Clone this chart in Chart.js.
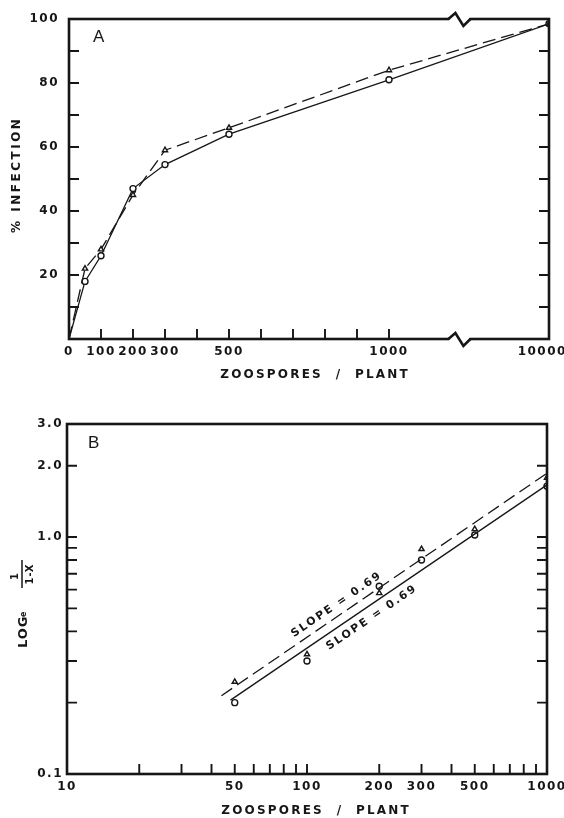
<!DOCTYPE html>
<html>
<head>
<meta charset="utf-8">
<script src="https://cdn.jsdelivr.net/npm/chart.js@4.4.0/dist/chart.umd.min.js"></script>
<style>
  html, body { margin: 0; padding: 0; background: #fff; }
  canvas { position: absolute; left: 0; }
  #chartA { top: 0; }
  #chartB { top: 400px; }
</style>
</head>
<body>
<canvas id="chartA" width="564" height="400"></canvas>
<canvas id="chartB" width="564" height="418"></canvas>
<script>
// ---- panel A: % infection vs zoospores / plant
const dosesA = [0, 50, 100, 200, 300, 500, 1000, 10000];
const infectionCircles = [0, 18, 26, 47, 54.5, 64, 81, 98.5];
const infectionTriangles = [0, 22, 28, 45, 59, 66, 84, 98.5];
const xTicksA = [0, 100, 200, 300, 400, 500, 600, 700, 800, 900, 1000, 10000];
const xLabelsA = [0, 100, 200, 300, 500, 1000, 10000];
const yTicksA = [0, 10, 20, 30, 40, 50, 60, 70, 80, 90, 100];
const yLabelsA = [20, 40, 60, 80, 100];

// ---- panel B: log_e 1/(1-x) vs zoospores / plant
const dosesB = [50, 100, 200, 300, 500, 1000];
const logCircles = [0.20, 0.30, 0.62, 0.80, 1.02, 1.64];
const logTriangles = [0.245, 0.32, 0.58, 0.89, 1.08, 1.78];
const fitSolidX = [48, 1000];
const fitSolidY = [0.205, 1.66];
const fitDashedX = [44, 1000];
const fitDashedY = [0.214, 1.86];
const xTicksB = [10, 20, 30, 40, 50, 60, 70, 80, 90, 100, 200, 300, 400, 500, 600, 700, 800, 900, 1000];
const xLabelsB = [10, 50, 100, 200, 300, 500, 1000];
const yTicksB = [0.1, 0.2, 0.3, 0.4, 0.5, 0.6, 0.7, 0.8, 0.9, 1, 2, 3];
const yLabelsB = [0.1, 1, 2, 3];
const slopeText = 'SLOPE = 0.69';

const ink = '#161616';
const tickFont = {family: 'DejaVu Sans', size: 12, weight: 'bold'};

// the x axis of A is broken after 1000; 10000 sits at the right edge
const posA = d => d > 1000 ? 1500 : d;
const breakA = 1220;

function pts(xs, ys, f) {
  return xs.map((v, i) => ({x: f ? f(v) : v, y: ys[i]}));
}

function spaced(ctx, s, x, y, font, spacing, align) {
  ctx.font = font;
  ctx.letterSpacing = spacing + 'px';
  ctx.textAlign = align || 'center';
  ctx.textBaseline = 'middle';
  ctx.fillText(s, x + (align === 'left' ? 0 : spacing / 2), y);
}

function frameAndTicks(chart, len, breakAt) {
  const {ctx, chartArea: a, scales: {x, y}} = chart;
  ctx.save();
  ctx.strokeStyle = ink;
  ctx.lineWidth = 1.9;
  ctx.beginPath();
  x.ticks.forEach(t => {
    const px = x.getPixelForValue(t.value);
    if (px < a.left + 2 || px > a.right - 2) return;
    ctx.moveTo(px, a.bottom);
    ctx.lineTo(px, a.bottom - len);
  });
  y.ticks.forEach(t => {
    const py = y.getPixelForValue(t.value);
    if (py < a.top + 2 || py > a.bottom - 2) return;
    ctx.moveTo(a.left, py);
    ctx.lineTo(a.left + len, py);
    ctx.moveTo(a.right, py);
    ctx.lineTo(a.right - len, py);
  });
  ctx.stroke();
  ctx.lineWidth = 2.6;
  ctx.strokeRect(a.left, a.top, a.width, a.height);
  if (breakAt != null) {
    const bx = x.getPixelForValue(breakAt);
    [a.top, a.bottom].forEach(by => {
      ctx.fillStyle = '#fff';
      ctx.fillRect(bx - 10, by - 2, 20, 4);
      ctx.beginPath();
      ctx.moveTo(bx - 11, by);
      ctx.lineTo(bx - 4, by - 6);
      ctx.lineTo(bx + 4, by + 7);
      ctx.lineTo(bx + 11, by);
      ctx.stroke();
    });
  }
  ctx.restore();
}

function scaleOpts(type, min, max, tickList, labelList, fmt, fixed, isX) {
  return {
    type: type,
    min: min,
    max: max,
    grid: {display: false, drawTicks: false},
    border: {display: false},
    afterBuildTicks: s => { s.ticks = tickList.map(v => ({value: isX && type === 'linear' ? posA(v) : v})); },
    afterFit: s => {
      if (isX) { s.height = fixed; s.paddingLeft = 0; s.paddingRight = 0; }
      else { s.width = fixed; s.paddingTop = 0; s.paddingBottom = 0; }
    },
    ticks: {
      autoSkip: false,
      maxRotation: 0,
      minRotation: 0,
      color: ink,
      font: tickFont,
      padding: isX ? 6 : fixed > 68 ? 10 : 4,
      callback: (v, i) => labelList.includes(tickList[i]) ? fmt(tickList[i]) : ''
    }
  };
}

const spacingPlugin = {
  id: 'spacing',
  beforeDraw: chart => { chart.ctx.letterSpacing = '1.5px'; }
};

// ---------- chart A
new Chart(document.getElementById('chartA'), {
  type: 'scatter',
  data: {
    datasets: [
      {
        data: pts(dosesA, infectionTriangles, posA),
        showLine: true,
        borderColor: ink,
        borderWidth: 1.3,
        borderDash: [13, 6],
        pointStyle: 'triangle',
        pointRadius: dosesA.map(d => d === 0 ? 0 : 3),
        pointBackgroundColor: '#fff',
        pointBorderColor: ink,
        pointBorderWidth: 1.4
      },
      {
        data: pts(dosesA, infectionCircles, posA),
        showLine: true,
        borderColor: ink,
        borderWidth: 1.3,
        pointStyle: 'circle',
        pointRadius: dosesA.map(d => d === 0 ? 0 : 3),
        pointBackgroundColor: '#fff',
        pointBorderColor: ink,
        pointBorderWidth: 1.4
      }
    ]
  },
  options: {
    responsive: false,
    animation: false,
    devicePixelRatio: 1,
    layout: {padding: {left: 0, top: 19, right: 15, bottom: 0}},
    plugins: {legend: {display: false}, tooltip: {enabled: false}},
    scales: {
      // trailing em space nudges the last label ("10000") left so it stays on the page
      x: scaleOpts('linear', 0, 1500, xTicksA, xLabelsA, v => v === 10000 ? v + '\u2003' : String(v), 61, true),
      y: scaleOpts('linear', 0, 100, yTicksA, yLabelsA, v => String(v), 69, false)
    }
  },
  plugins: [spacingPlugin, {
    id: 'decorA',
    afterDatasetsDraw: chart => {
      frameAndTicks(chart, 10, breakA);
      const {ctx, chartArea: a} = chart;
      ctx.save();
      ctx.fillStyle = ink;
      spaced(ctx, 'ZOOSPORES  /  PLANT', (a.left + a.right) / 2 + 5, 375, 'bold 12px "DejaVu Sans"', 2.2);
      ctx.translate(17, 176);
      ctx.rotate(-Math.PI / 2);
      spaced(ctx, '% INFECTION', 0, 0, 'bold 12px "DejaVu Sans"', 2.5);
      ctx.restore();
      ctx.save();
      ctx.fillStyle = ink;
      spaced(ctx, 'A', a.left + 24, a.top + 18, '17px "Liberation Sans"', 0, 'left');
      ctx.restore();
    }
  }]
});

// ---------- chart B
const slopeNotes = [
  {x: 132, y: 0.516, line: 'dashed'},
  {x: 185, y: 0.455, line: 'solid'}
];

new Chart(document.getElementById('chartB'), {
  type: 'scatter',
  data: {
    datasets: [
      {
        data: pts(fitDashedX, fitDashedY),
        showLine: true,
        borderColor: ink,
        borderWidth: 1.3,
        borderDash: [13, 6],
        pointRadius: 0
      },
      {
        data: pts(fitSolidX, fitSolidY),
        showLine: true,
        borderColor: ink,
        borderWidth: 1.3,
        pointRadius: 0
      },
      {
        data: pts(dosesB, logTriangles),
        pointStyle: 'triangle',
        pointRadius: 3,
        pointBackgroundColor: '#fff',
        pointBorderColor: ink,
        pointBorderWidth: 1.4
      },
      {
        data: pts(dosesB, logCircles),
        pointStyle: 'circle',
        pointRadius: 3,
        pointBackgroundColor: '#fff',
        pointBorderColor: ink,
        pointBorderWidth: 1.4
      }
    ]
  },
  options: {
    responsive: false,
    animation: false,
    devicePixelRatio: 1,
    layout: {padding: {left: 0, top: 24, right: 17, bottom: 0}},
    plugins: {legend: {display: false}, tooltip: {enabled: false}},
    scales: {
      x: scaleOpts('logarithmic', 10, 1000, xTicksB, xLabelsB, v => String(v), 44, true),
      y: scaleOpts('logarithmic', 0.1, 3, yTicksB, yLabelsB, v => v.toFixed(1), 67, false)
    }
  },
  plugins: [spacingPlugin, {
    id: 'decorB',
    afterDatasetsDraw: chart => {
      frameAndTicks(chart, 10, null);
      const {ctx, chartArea: a, scales: {x, y}} = chart;
      ctx.save();
      ctx.fillStyle = ink;
      spaced(ctx, 'ZOOSPORES  /  PLANT', (a.left + a.right) / 2 + 8, 411, 'bold 12px "DejaVu Sans"', 2.2);
      spaced(ctx, 'B', a.left + 21, a.top + 19, '17px "Liberation Sans"', 0, 'left');

      // slope notes, rotated along the fitted lines
      slopeNotes.forEach(n => {
        const fx = n.line === 'solid' ? fitSolidX : fitDashedX;
        const fy = n.line === 'solid' ? fitSolidY : fitDashedY;
        const ang = Math.atan2(y.getPixelForValue(fy[1]) - y.getPixelForValue(fy[0]),
                               x.getPixelForValue(fx[1]) - x.getPixelForValue(fx[0]));
        ctx.save();
        ctx.translate(x.getPixelForValue(n.x), y.getPixelForValue(n.y));
        ctx.rotate(ang);
        spaced(ctx, slopeText, 0, 0, 'bold 11px "DejaVu Sans"', 2);
        ctx.restore();
      });

      // y title: LOG_e 1/(1-X)
      ctx.translate(22, 200);
      ctx.rotate(-Math.PI / 2);
      ctx.textBaseline = 'alphabetic';
      ctx.textAlign = 'left';
      ctx.letterSpacing = '1px';
      ctx.font = 'bold 13px "DejaVu Sans"';
      ctx.fillText('LOG', -48, 5);
      ctx.font = 'bold 8px "DejaVu Sans"';
      ctx.fillText('e', -17, 4);
      ctx.textAlign = 'center';
      ctx.font = 'bold 10px "DejaVu Sans"';
      ctx.fillText('1', 24, -4);
      ctx.fillText('1-X', 26, 11);
      ctx.lineWidth = 1.5;
      ctx.strokeStyle = ink;
      ctx.beginPath();
      ctx.moveTo(12, 0);
      ctx.lineTo(40, 0);
      ctx.stroke();
      ctx.restore();
    }
  }]
});
</script>
</body>
</html>
